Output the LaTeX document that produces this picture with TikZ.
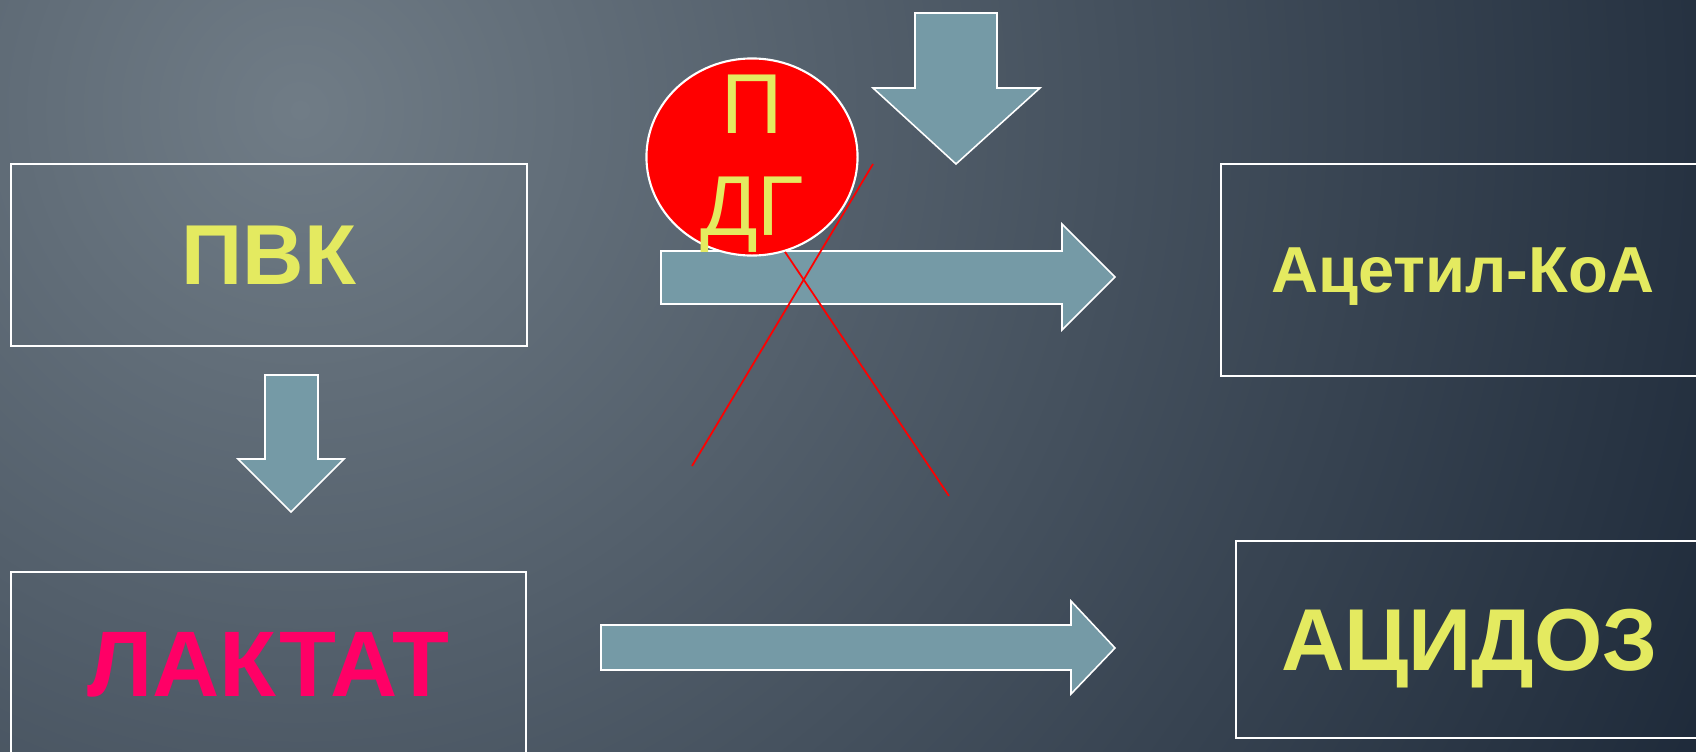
\documentclass[tikz,border=0pt]{standalone}
\usepackage{fontspec}
\setmainfont{Liberation Sans}
\usetikzlibrary{shapes.geometric}
\definecolor{bglight}{RGB}{112,124,134}
\definecolor{bgdark}{RGB}{26,38,54}
\definecolor{txtyellow}{RGB}{228,234,96}
\definecolor{lactred}{RGB}{255,0,102}
\definecolor{arrowblue}{RGB}{117,154,166}
\begin{document}
\begin{tikzpicture}[x=0.01cm,y=-0.01cm,
    box/.style={draw=white,line width=0.5pt,inner sep=0pt,text depth=0pt,text=txtyellow},
    bigarrow/.style={fill=arrowblue,draw=white,line width=0.45pt,line join=miter},
    cross/.style={red,line width=0.5pt}]
  \useasboundingbox (0,0) rectangle (1696,751);
  \clip (0,0) rectangle (1696,751);
  \fill[bgdark] (0,0) rectangle (1696,751);
  \shade[inner color=bglight,outer color=bgdark] (300,110) circle (1620);
  % boxes
  \node[box,minimum width=5.16cm,minimum height=1.82cm,font=\bfseries\fontsize{24.2}{29}\selectfont] (pvk) at (269,255) {ПВК};
  \node[box,minimum width=5.15cm,minimum height=1.84cm,text=lactred,font=\bfseries\fontsize{26.5}{32}\selectfont] (laktat) at (268.5,664) {ЛАКТАТ};
  \node[box,minimum width=4.84cm,minimum height=2.12cm,font=\bfseries\fontsize{18.5}{22}\selectfont] (acetil) at (1463,270) {Ацетил-КоА};
  \node[box,minimum width=4.67cm,minimum height=1.97cm,font=\bfseries\fontsize{25}{30}\selectfont] (acidoz) at (1469.5,639.5) {АЦИДОЗ};
  % block arrows
  \draw[bigarrow] (265,375) -- (318,375) -- (318,459) -- (344,459) -- (291,512) -- (238,459) -- (265,459) -- cycle;
  \draw[bigarrow] (915,13) -- (997,13) -- (997,88) -- (1040,88) -- (956,164) -- (873,88) -- (915,88) -- cycle;
  \draw[bigarrow] (661,251) -- (1062,251) -- (1062,224) -- (1115,277) -- (1062,330) -- (1062,304) -- (661,304) -- cycle;
  \draw[bigarrow] (601,625) -- (1071,625) -- (1071,601) -- (1115,648) -- (1071,694) -- (1071,670) -- (601,670) -- cycle;
  % crossed out
  \draw[cross] (873,164) -- (692,466);
  \draw[cross] (726,164) -- (949,496);
  \node[ellipse,fill=red,draw=white,line width=0.6pt,minimum width=2.11cm,minimum height=1.97cm,inner sep=0pt] (pdg) at (752,157) {};
  \node[text=txtyellow,align=center,inner sep=0pt,font=\fontsize{24.2}{29}\selectfont] (pdgtext) at (752,164) {П\\ДГ};
\end{tikzpicture}
\end{document}
